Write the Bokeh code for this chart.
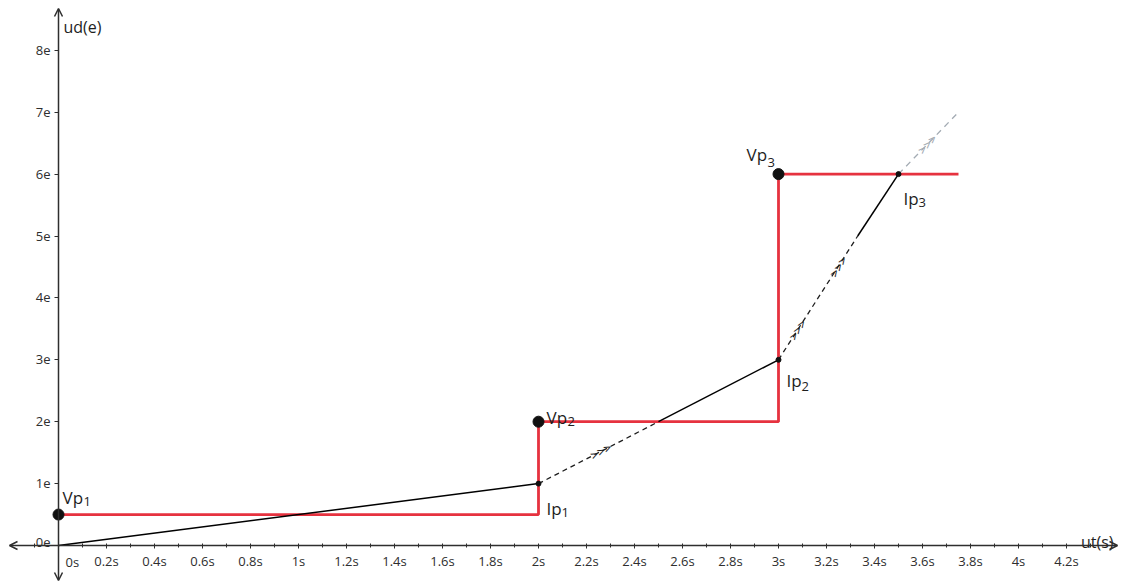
import math
from bokeh.plotting import figure
from bokeh.models import Range1d, FixedTicker, CustomJSTickFormatter, Arrow, OpenHead
from bokeh.core.properties import value
from bokeh.embed import file_html
from bokeh.resources import INLINE

# ---------------- data ----------------
x_ticks = [0.2, 0.4, 0.6, 0.8, 1.0, 1.2, 1.4, 1.6, 1.8, 2.0, 2.2, 2.4, 2.6, 2.8,
           3.0, 3.2, 3.4, 3.6, 3.8, 4.0, 4.2]
x_minor = [-0.1, 0.1, 0.3, 0.5, 0.7, 0.9, 1.1, 1.3, 1.5, 1.7, 1.9, 2.1, 2.3, 2.5,
           2.7, 2.9, 3.1, 3.3, 3.5, 3.7, 3.9, 4.1, 4.3]
y_ticks = [1, 2, 3, 4, 5, 6, 7, 8]

# red staircase (ut in s, ud in e)
red_t = [0, 2, 2, 3, 3, 3.75]
red_e = [0.5, 0.5, 2, 2, 6, 6]

# solid black segments
solid_t0 = [0, 2.5, 3.33]
solid_e0 = [0, 2, 5]
solid_t1 = [2, 3, 3.5]
solid_e1 = [1, 3, 6]

# dashed black segments
dash_t0 = [2, 3]
dash_e0 = [1, 3]
dash_t1 = [2.5, 3.33]
dash_e1 = [2, 5]

# dashed grey continuation
grey_t0 = [3.5]
grey_e0 = [6]
grey_t1 = [3.75]
grey_e1 = [7]

# points
vp_t = [0, 2, 3]
vp_e = [0.5, 2, 6]
vp_sub = ["1", "2", "3"]
ip_t = [2, 3, 3.5]
ip_e = [1, 3, 6]
ip_sub = ["1", "2", "3"]

# chevron marks along dashed lines
chev_t = [2.26, 3.08, 3.25, 3.62]
chev_e = [1.52, 3.48, 4.5, 6.48]
chev_slope = [2, 6, 6, 4]

# ---------------- layout ----------------
W, H = 1122, 585
SX, SY = 240.0, 61.9          # pixels per second / per e
OX, OY = 58, 545              # origin position in pixels
x0, x1 = -OX / SX, (W - OX) / SX
y1 = OY / SY
y0 = y1 - H / SY

AX = "#2e2e2e"
RED = "#E6323F"
GREY = "#A3ABB3"
INK = "#1e1e1e"
FONT = "Open Sans"

p = figure(width=W, height=H, x_range=Range1d(x0, x1), y_range=Range1d(y0, y1),
           output_backend="svg", toolbar_location=None, min_border=0,
           background_fill_color="white", border_fill_color="white")
p.outline_line_color = None
p.grid.visible = False

# axes through the origin
p.xaxis.fixed_location = 0
p.yaxis.fixed_location = 0
p.xaxis.ticker = FixedTicker(ticks=x_ticks, minor_ticks=x_minor)
p.yaxis.ticker = FixedTicker(ticks=y_ticks, minor_ticks=[])
p.xaxis.formatter = CustomJSTickFormatter(code="return (Math.round(tick*10)/10).toString() + 's';")
p.yaxis.formatter = CustomJSTickFormatter(code="return Math.round(tick).toString() + 'e';")
for ax in (p.xaxis, p.yaxis):
    ax.axis_line_color = None
    ax.major_tick_line_color = AX
    ax.minor_tick_line_color = AX
    ax.major_tick_line_width = 1
    ax.minor_tick_line_width = 1
    ax.major_label_text_font = FONT
    ax.major_label_text_font_size = "13px"
    ax.major_label_text_color = AX
p.xaxis.major_tick_in = 2
p.xaxis.major_tick_out = 3
p.xaxis.minor_tick_in = 2
p.xaxis.minor_tick_out = 2
p.xaxis.major_label_standoff = 3
p.yaxis.major_tick_in = 0
p.yaxis.major_tick_out = 4
p.yaxis.minor_tick_in = 0
p.yaxis.minor_tick_out = 0
p.yaxis.major_label_standoff = 4

# axis lines with arrow heads
def head():
    return OpenHead(size=8, line_color=AX, line_width=1.5)

p.add_layout(Arrow(start=head(), end=head(),
                   x_start=x0 + 9 / SX, y_start=0, x_end=x1 - 5 / SX, y_end=0,
                   line_color=AX, line_width=1.5))
p.add_layout(Arrow(start=head(), end=head(),
                   x_start=0, y_start=y0 + 5 / SY, x_end=0, y_end=y1 - 8 / SY,
                   line_color=AX, line_width=1.5))

# origin labels and axis titles
p.text(x=[0], y=[0], text=["0s"], x_offset=7, y_offset=7, text_baseline="top",
       text_align="left", text_font=value(FONT), text_font_size="13px", text_color=AX)
p.text(x=[0], y=[0], text=["0e"], x_offset=-8, y_offset=-3, text_baseline="alphabetic",
       text_align="right", text_font=value(FONT), text_font_size="13px", text_color=AX)
p.text(x=[0], y=[y1], text=["ud(e)"], x_offset=5, y_offset=26, text_baseline="alphabetic",
       text_align="left", text_font=value(FONT), text_font_size="16px", text_color=INK)
p.text(x=[x1], y=[0], text=["ut(s)"], x_offset=-9, y_offset=-4, text_baseline="alphabetic",
       text_align="right", text_font=value(FONT), text_font_size="16px", text_color=INK)

# lines
p.line(red_t, red_e, line_color=RED, line_width=2.8)
p.segment(solid_t0, solid_e0, solid_t1, solid_e1, line_color="black", line_width=1.5)
p.segment(dash_t0, dash_e0, dash_t1, dash_e1, line_color=INK, line_width=1.3,
          line_dash="5 4")
p.segment(grey_t0, grey_e0, grey_t1, grey_e1, line_color=GREY, line_width=1.3,
          line_dash="6 5")

# chevrons
chev_angle = [math.atan2(s * SY, SX) for s in chev_slope]
chev_col = [INK, INK, INK, GREY]
p.text(x=chev_t, y=chev_e, text=[">>>"] * len(chev_t), angle=chev_angle,
       text_align="center", text_baseline="middle", text_font=value("DejaVu Sans Mono"),
       text_font_size="12px", text_color=chev_col)

# points
p.scatter(vp_t, vp_e, size=11, color="#111111")
p.scatter(ip_t, ip_e, size=5, color="#111111")

# point labels (pixel offsets from their points)
vp_main_dx = [4, 8, -32]
vp_main_dy = [-17, -4, -20]
vp_sub_dy = [-13, 0, -12]
ip_main_dx = [8, 8, 5]
ip_main_dy = [25, 21, 24]
ip_sub_dy = [29, 27, 28]

for t, e, s, mdx, mdy, sdy in zip(vp_t, vp_e, vp_sub, vp_main_dx, vp_main_dy, vp_sub_dy):
    p.text(x=[t], y=[e], text=["Vp"], x_offset=mdx, y_offset=mdy, text_align="left",
           text_baseline="alphabetic", text_font=value(FONT), text_font_size="17px",
           text_color=INK)
    p.text(x=[t], y=[e], text=[s], x_offset=mdx + 21, y_offset=sdy, text_align="left",
           text_baseline="alphabetic", text_font=value(FONT), text_font_size="13px",
           text_color=INK)
for t, e, s, mdx, mdy, sdy in zip(ip_t, ip_e, ip_sub, ip_main_dx, ip_main_dy, ip_sub_dy):
    p.text(x=[t], y=[e], text=["Ip"], x_offset=mdx, y_offset=mdy, text_align="left",
           text_baseline="alphabetic", text_font=value(FONT), text_font_size="17px",
           text_color=INK)
    p.text(x=[t], y=[e], text=[s], x_offset=mdx + 15, y_offset=sdy, text_align="left",
           text_baseline="alphabetic", text_font=value(FONT), text_font_size="13px",
           text_color=INK)

open("out.html", "w").write(file_html(p, INLINE))
